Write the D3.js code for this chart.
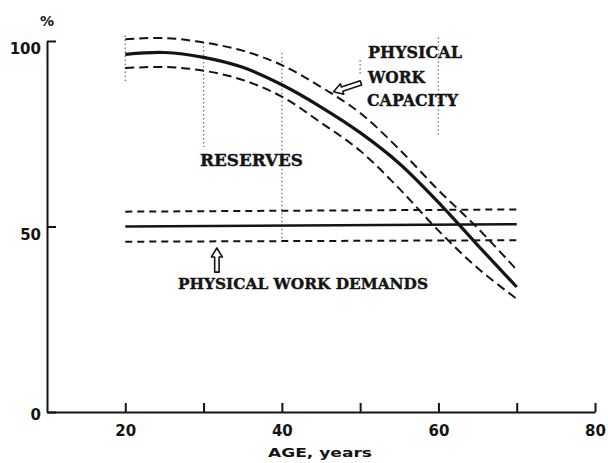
<!DOCTYPE html>
<html>
<head>
<meta charset="utf-8">
<script src="https://cdn.jsdelivr.net/npm/d3@7"></script>
<style>
  html, body { margin: 0; padding: 0; background: #fff; }
  svg { display: block; }
</style>
</head>
<body>
<svg id="chart" width="608" height="463"></svg>
<script>
// ---- data ----
const ages = [20, 25, 30, 35, 40, 45, 50, 55, 60, 65, 70];
const capacity      = [96.4, 96.9, 95.6, 92.9, 88.2, 82.2, 75.3, 67.0, 56.5, 45.0, 33.7];
const capacityUpper = [100.5, 100.8, 99.6, 97.4, 93.5, 87.6, 80.6, 70.8, 59.8, 49.6, 38.3];
const capacityLower = [92.7, 93.0, 92.0, 89.5, 85.0, 78.0, 70.4, 60.2, 48.9, 38.8, 30.5];
const demandAges  = [20, 70];
const demand      = [50.0, 50.6];
const demandUpper = [54.0, 54.6];
const demandLower = [45.9, 46.3];
const xTicks = [20, 30, 40, 50, 60, 70, 80];
const xTickLabels = ["20", "", "40", "", "60", "", "80"];
const yTicks = [0, 50, 100];
const yTickLabels = ["0", "50", "100"];
const reserveAges   = [20, 30, 40, 50, 60];
const reserveTop    = [101.5, 99.7, 96.8, 94.9, 101.0];
const reserveBottom = [89.0, 71.4, 46.4, 90.8, 74.7];

// ---- scales ----
const svg = d3.select("#chart");
const x = d3.scaleLinear().domain([10, 80]).range([47, 595]);
const y = d3.scaleLinear().domain([0, 100]).range([412, 41]);
const ink = "#141414";

svg.append("rect").attr("width", 608).attr("height", 463).attr("fill", "#fff");

// ---- reserve dotted verticals ----
svg.append("g").selectAll("line").data(reserveAges).join("line")
  .attr("x1", d => x(d)).attr("x2", d => x(d))
  .attr("y1", (d, i) => y(reserveTop[i])).attr("y2", (d, i) => y(reserveBottom[i]))
  .attr("stroke", "#777").attr("stroke-width", 1.3).attr("stroke-dasharray", "1.5,2.5");

// ---- axes ----
const xAxis = d3.axisBottom(x).tickValues(xTicks)
  .tickFormat((d, i) => xTickLabels[i]).tickSizeInner(-9).tickSizeOuter(0).tickPadding(13);
const gx = svg.append("g").attr("transform", `translate(0,${y(0)})`).call(xAxis);
const yAxis = d3.axisLeft(y).tickValues(yTicks)
  .tickFormat((d, i) => yTickLabels[i]).tickSizeInner(-9).tickSizeOuter(0).tickPadding(6);
const gy = svg.append("g").attr("transform", `translate(${x(10)},0)`).call(yAxis);
[gx, gy].forEach(g => {
  g.select(".domain").attr("stroke", ink).attr("stroke-width", 2);
  g.selectAll(".tick line").attr("stroke", ink).attr("stroke-width", 2);
  g.selectAll(".tick text").attr("fill", ink)
    .attr("font-family", "DejaVu Sans").attr("font-weight", "bold").attr("font-size", 15);
});
gy.selectAll(".tick text").attr("y", d => d === 0 ? 3 : 8);

svg.append("text").attr("x", x(10)).attr("y", 26).attr("text-anchor", "middle")
  .attr("font-family", "DejaVu Sans").attr("font-weight", "bold").attr("font-size", 14)
  .attr("fill", ink).text("%");
svg.append("text").attr("x", 320).attr("y", 457).attr("text-anchor", "middle")
  .attr("font-family", "DejaVu Sans").attr("font-weight", "bold").attr("font-size", 12)
  .attr("textLength", 104).attr("lengthAdjust", "spacingAndGlyphs")
  .attr("fill", ink).text("AGE, years");

// ---- lines ----
const line = d3.line().x(d => x(d[0])).y(d => y(d[1])).curve(d3.curveCatmullRom.alpha(0.5));
function draw(xs, ys, w, dash) {
  svg.append("path").datum(xs.map((a, i) => [a, ys[i]]))
    .attr("d", line).attr("fill", "none").attr("stroke", ink)
    .attr("stroke-width", w).attr("stroke-dasharray", dash || null);
}
draw(demandAges, demandUpper, 2, "7,5");
draw(demandAges, demandLower, 2, "7,5");
draw(demandAges, demand, 2.6);
draw(ages, capacityUpper, 2, "9,5");
draw(ages, capacityLower, 2, "9,5");
draw(ages, capacity, 3.2);

// ---- annotations ----
function hollowArrow(tipAge, tipPct, tailAge, tailPct) {
  const tx = x(tipAge), ty = y(tipPct), ex = x(tailAge), ey = y(tailPct);
  const len = Math.hypot(ex - tx, ey - ty);
  const rot = Math.atan2(ey - ty, ex - tx) * 180 / Math.PI - 90;
  const p = `M0,0 L5.5,9 L2.2,9 L2.2,${len} L-2.2,${len} L-2.2,9 L-5.5,9 Z`;
  svg.append("path").attr("d", p)
    .attr("transform", `translate(${tx},${ty}) rotate(${rot})`)
    .attr("fill", "#fff").attr("stroke", ink).attr("stroke-width", 1.6)
    .attr("stroke-linejoin", "round");
}
hollowArrow(31.7, 44.2, 31.7, 37.7);
hollowArrow(46.6, 86.3, 50.1, 88.7);

const serif = "DejaVu Serif";
function label(txt, xPos, yPos, size, len) {
  svg.append("text").attr("x", xPos).attr("y", yPos)
    .attr("font-family", serif).attr("font-weight", "bold").attr("font-size", size)
    .attr("textLength", len).attr("lengthAdjust", "spacingAndGlyphs")
    .attr("fill", ink).attr("stroke", ink).attr("stroke-width", 0.4).text(txt);
}
label("PHYSICAL", 368, 58, 16, 94);
label("WORK", 368, 83, 16, 57);
label("CAPACITY", 367, 106, 16, 91);
label("RESERVES", 200, 166, 16, 103);
label("PHYSICAL WORK DEMANDS", 178, 289, 15, 250);
</script>
</body>
</html>
